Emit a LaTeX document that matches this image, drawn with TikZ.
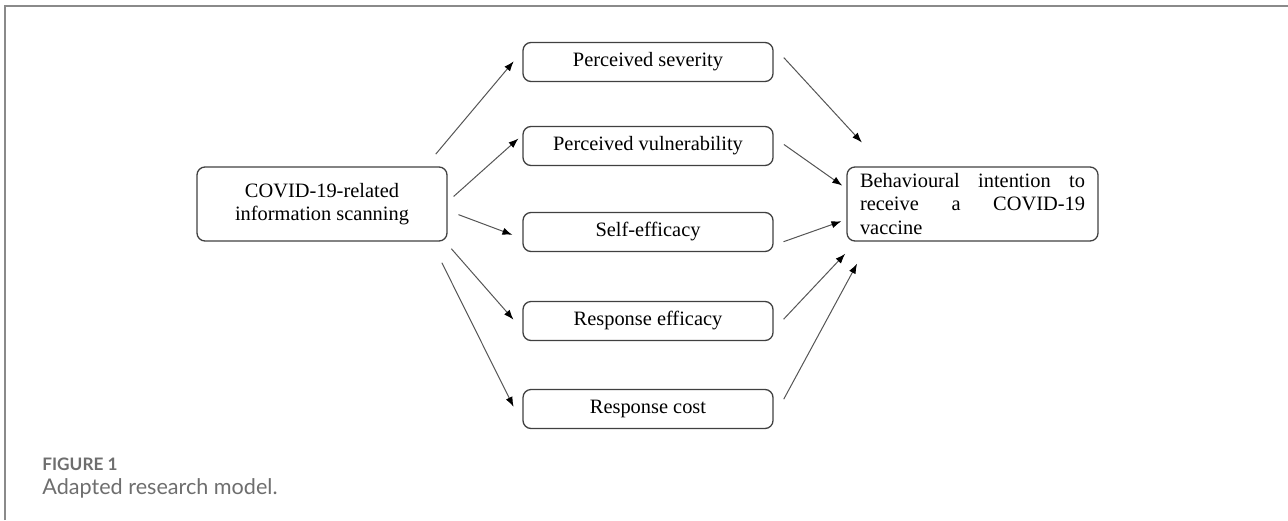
\documentclass[tikz,border=0pt]{standalone}
\usepackage{fontspec}
\setmainfont{Liberation Serif}
\newfontfamily\capfont{Lato}
\usetikzlibrary{arrows.meta}
\definecolor{boxline}{HTML}{404040}
\definecolor{linkline}{HTML}{555555}
\definecolor{capgray}{HTML}{6E6E6E}
\definecolor{framegray}{HTML}{8A8A8A}
\tikzset{%
  factor/.style    = {shape=rectangle, rounded corners=4pt,%
                      draw=boxline, line width=0.65pt, inner sep=0pt,%
                      minimum width=125pt, minimum height=19.5pt,%
                      font=\fontsize{10.2}{11.7}\selectfont},%
  predictor/.style = {factor, minimum height=37pt, align=center},%
  outcome/.style   = {factor, minimum width=125.5pt, minimum height=37pt,%
                      text width=112.5pt, inner xsep=6.5pt, align=left},%
  link/.style      = {draw=linkline, line width=0.5pt,%
                      -{Latex[length=5pt,width=3.6pt,color=black]}},%
  caption/.style   = {anchor=base west, inner sep=0pt, text=capgray}%
}

\begin{document}
\begin{tikzpicture}[x=0.5pt, y=-0.5pt]
  \useasboundingbox (0,0) rectangle (1288,520);
  \draw[framegray, line width=0.75pt] (5,520) -- (5,6) -- (1288,6);
  % boxes
  \node[predictor] (scan) at (322,204) {COVID-19-related\\information scanning};
  \node[factor] (sev)  at (648,62)  {Perceived severity};
  \node[factor] (vul)  at (648,146) {Perceived vulnerability};
  \node[factor] (self) at (648,232) {Self-efficacy};
  \node[factor] (resp) at (648,321) {Response efficacy};
  \node[factor] (cost) at (648,409) {Response cost};
  \node[outcome] (intent) at (972.5,204)
    {\makebox[112.5pt][l]{Behavioural\hfill intention\hfill to}\\
     \makebox[112.5pt][l]{receive\hfill a\hfill COVID-19}\\
     vaccine};
  % paths in
  \draw[link, shorten <=8pt,   shorten >=6.7pt] (scan.20.7)  -- (sev.175.9);
  \draw[link, shorten <=4pt,   shorten >=2.6pt] (scan.1.8)   -- (vul.175.7);
  \draw[link, shorten <=5.8pt, shorten >=5.3pt] (scan.-3.75) -- (self.183);
  \draw[link, shorten <=4.7pt, shorten >=6.7pt] (scan.-17.2) -- (resp.184.6);
  \draw[link, shorten <=11.8pt,shorten >=9.8pt] (scan.-19.2) -- (cost.187);
  % paths out
  \draw[link, shorten <=7.5pt,  shorten >=16.2pt] (sev.7.3)   -- (intent.157.6);
  \draw[link, shorten <=6.25pt, shorten >=2.5pt]  (vul.4.8)   -- (intent.173.6);
  \draw[link, shorten <=5.25pt, shorten >=2.6pt]  (self.-6)   -- (intent.187.9);
  \draw[link, shorten <=7.25pt, shorten >=8.3pt]  (resp.-4.8) -- (intent.198.1);
  \draw[link, shorten <=10.6pt, shorten >=12.5pt] (cost.-4.6) -- (intent.200.4);
  % caption
  \node[caption, font=\capfont\bfseries\fontsize{8.6}{10}\selectfont] (figno) at (42,470) {FIGURE 1};
  \node[caption, font=\capfont\fontsize{10.8}{12}\selectfont] (figtext) at (42,494) {Adapted research model.};
\end{tikzpicture}
\end{document}
